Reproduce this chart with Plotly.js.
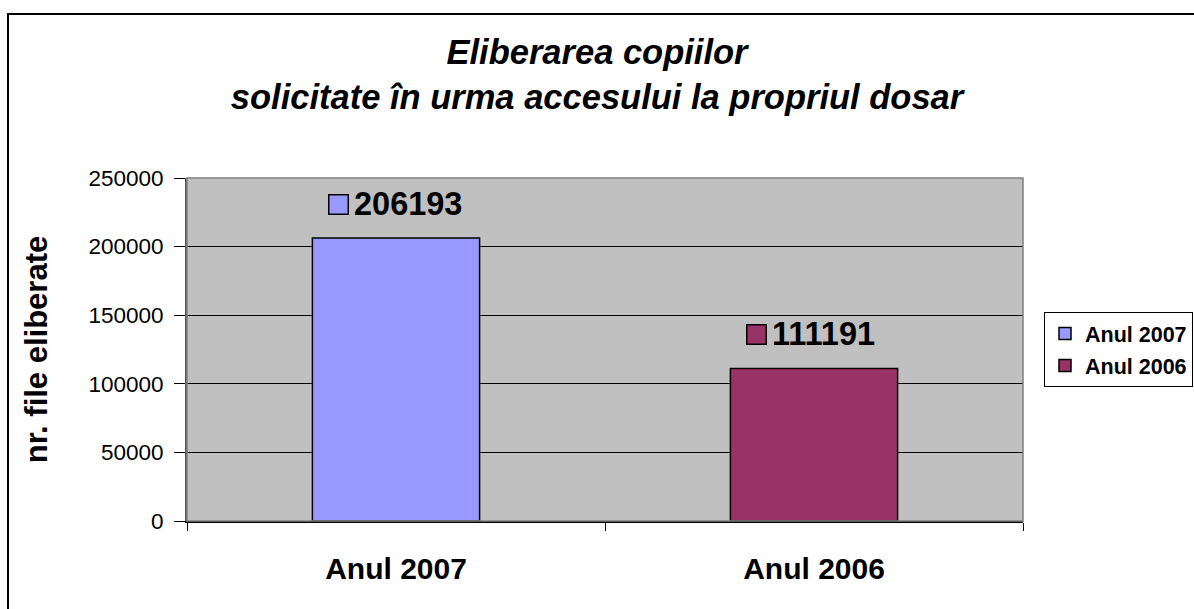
<!DOCTYPE html>
<html>
<head>
<meta charset="utf-8">
<script src="https://cdn.plot.ly/plotly-3.0.1.min.js"></script>
<style>
html,body{margin:0;padding:0;background:#fff;}
#chart{width:1194px;height:609px;}
</style>
</head>
<body>
<div id="chart"></div>
<script>
const categories = ["Anul 2007", "Anul 2006"];
const seriesNames = ["Anul 2007", "Anul 2006"];
const values = [206193, 111191];
const colors = ["#9999FF", "#993366"];
const yTicks = [0, 50000, 100000, 150000, 200000, 250000];
const titleText = "Eliberarea copiilor<br>solicitate în urma accesului la propriul dosar";
const yTitle = "nr. file eliberate";

const FONT = "Liberation Sans, Arial, sans-serif";

const traces = categories.map((c, i) => ({
  type: "bar",
  name: "<b>" + seriesNames[i] + "</b>",
  legendgroup: "g" + i,
  x: [c],
  y: [values[i]],
  width: 0.4,
  marker: {color: colors[i], line: {color: "#000", width: 1.5}},
  hoverinfo: "x+y"
}));

const annotations = [];
categories.forEach((c, i) => {
  annotations.push({
    x: c, y: values[i], xref: "x", yref: "y",
    text: " ", showarrow: false,
    width: 18, height: 18,
    bgcolor: colors[i], bordercolor: "#000", borderwidth: 1.5,
    xanchor: "center", yanchor: "middle",
    xshift: -58, yshift: 34, borderpad: 0
  });
  annotations.push({
    x: c, y: values[i], xref: "x", yref: "y",
    text: "<b>" + values[i] + "</b>", showarrow: false,
    font: {family: FONT, size: 32.5, color: "#000"},
    xanchor: "left", yanchor: "middle",
    xshift: -44, yshift: 34
  });
});

const layout = {
  width: 1194, height: 609,
  margin: {l: 187, r: 171, t: 178, b: 88},
  paper_bgcolor: "#fff",
  plot_bgcolor: "#C0C0C0",
  barmode: "overlay",
  showlegend: true,
  font: {family: FONT, color: "#000"},
  title: {
    text: "<b><i>" + titleText + "</i></b>",
    font: {family: FONT, size: 34.5, color: "#000"},
    x: 0.5, xref: "container", xanchor: "center",
    y: 0.895, yref: "container", yanchor: "top"
  },
  xaxis: {
    type: "category",
    range: [-0.5, 1.5],
    tickson: "boundaries",
    ticks: "outside", ticklen: 8, tickcolor: "#000", tickwidth: 1,
    showline: true, linecolor: "#000", linewidth: 1.5,
    showgrid: false,
    tickfont: {family: FONT, size: 30, color: "#000"},
    tickprefix: "<b>", ticksuffix: "</b>",
    ticklabelstandoff: 20,
    fixedrange: true
  },
  yaxis: {
    range: [0, 250000],
    tickvals: yTicks,
    ticktext: yTicks.map(String),
    ticks: "outside", ticklen: 11, tickcolor: "#000", tickwidth: 1,
    showline: true, linecolor: "#555", linewidth: 2,
    showgrid: true, gridcolor: "#000", gridwidth: 1,
    zeroline: false,
    tickfont: {family: FONT, size: 22.5, color: "#000"},
    ticklabelstandoff: 6,
    title: {text: "<b>" + yTitle + "</b>", font: {family: FONT, size: 31, color: "#000"}, standoff: 32},
    fixedrange: true
  },
  legend: {
    xref: "container", yref: "container",
    x: 1044 / 1194, xanchor: "left", y: 1 - 312 / 609, yanchor: "top",
    bgcolor: "#fff", bordercolor: "#000", borderwidth: 1,
    font: {family: FONT, size: 21.5, color: "#000"},
    itemwidth: 30,
    tracegroupgap: 1
  },
  annotations: annotations,
  shapes: [
    {type: "rect", xref: "paper", yref: "paper", x0: 0, x1: 1, y0: 0, y1: 1,
     line: {color: "#808080", width: 1.5}, fillcolor: "rgba(0,0,0,0)", layer: "above"},
    {type: "rect", xref: "paper", yref: "paper", x0: -0.2141, x1: 1.225, y0: -0.28, y1: 1.478,
     line: {color: "#000", width: 2}, fillcolor: "rgba(0,0,0,0)", layer: "below"}
  ]
};

Plotly.newPlot("chart", traces, layout, {displayModeBar: false});
</script>
</body>
</html>
